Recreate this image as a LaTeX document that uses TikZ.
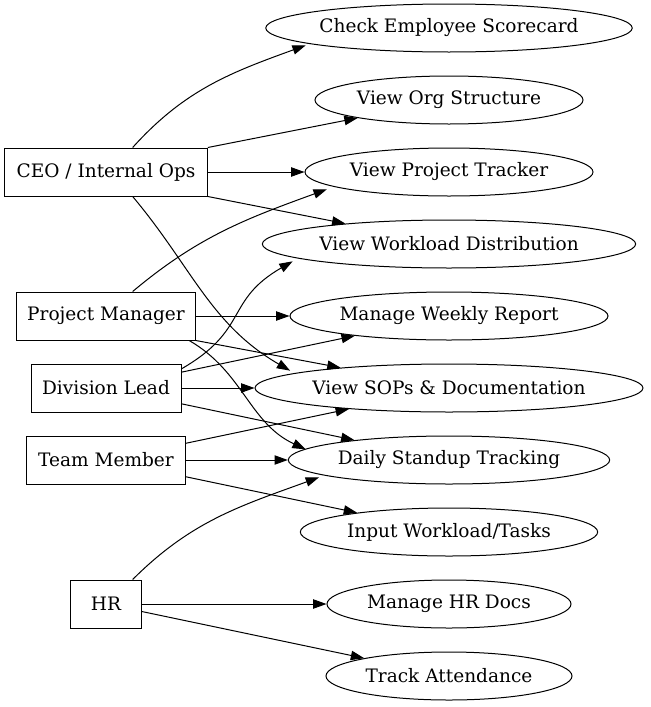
\documentclass[tikz,border=0pt]{standalone}
\usepackage{fontspec}
\setmainfont{DejaVu Serif}
\usetikzlibrary{shapes.geometric,arrows.meta}

\tikzset{
  role/.style={draw,rectangle,minimum height=36pt,inner sep=0pt},
  usecase/.style={draw,ellipse,minimum height=36pt,inner sep=0pt},
  link/.style={-{Triangle[length=10pt,width=7pt]}},
}

\begin{document}
\begin{tikzpicture}[x=0.75pt,y=-0.75pt,line width=0.75pt,font=\fontsize{13.9}{16}\selectfont]
  \useasboundingbox (0,0) rectangle (650,707);

  % roles on the left
  \node[role,minimum width=152pt] (ceo) at (106,172) {CEO / Internal Ops};
  \node[role,minimum width=134pt] (pm)  at (106,316) {Project Manager};
  \node[role,minimum width=112.5pt] (dl) at (106,388) {Division Lead};
  \node[role,minimum width=119pt] (tm)  at (106,460) {Team Member};
  \node[role,minimum width=53pt]  (hr)  at (106,604) {HR};

  % use cases on the right
  \node[usecase,minimum width=274.5pt] (score)    at (449,28)  {Check Employee Scorecard};
  \node[usecase,minimum width=201pt]   (org)      at (449,100) {View Org Structure};
  \node[usecase,minimum width=216pt]   (tracker)  at (449,172) {View Project Tracker};
  \node[usecase,minimum width=280pt]   (workload) at (449,244) {View Workload Distribution};
  \node[usecase,minimum width=238.5pt] (weekly)   at (449,316) {Manage Weekly Report};
  \node[usecase,minimum width=291pt]   (sops)     at (449,388) {View SOPs \& Documentation};
  \node[usecase,minimum width=241pt]   (daily)    at (449,460) {Daily Standup Tracking};
  \node[usecase,minimum width=223pt]   (input)    at (449,532) {Input Workload/Tasks};
  \node[usecase,minimum width=183pt]   (hrdocs)   at (449,604) {Manage HR Docs};
  \node[usecase,minimum width=184.5pt] (attend)   at (449,676) {Track Attendance};

  % CEO
  \draw[link] ([xshift=20pt]ceo.north) to[out=48,in=200] ([xshift=-10pt]score.south west);
  \draw[link] (ceo.north east) -- (org);
  \draw[link] (ceo) -- (tracker);
  \draw[link] (ceo.south east) -- (workload);
  \draw[link] ([xshift=20pt]ceo.south) to[out=-50,in=150] ([xshift=-16pt]sops.north west);

  % project manager
  \draw[link] ([xshift=20pt]pm.north) to[out=40,in=200] ([xshift=-15pt]tracker.south west);
  \draw[link] (pm) -- (weekly);
  \draw[link] (pm.south east) -- (sops);
  \draw[link] ([xshift=-5pt]pm.south east) to[out=-30,in=155] ([xshift=-22pt,yshift=-5pt]daily.north west);

  % division lead
  \draw[link] ([yshift=-4pt]dl.north east) to[out=30,in=210,looseness=1.3] ([xshift=-18pt]workload.south west);
  \draw[link] (dl) -- (weekly);
  \draw[link] (dl) -- (sops);
  \draw[link] (dl) -- (daily);

  % team member
  \draw[link] (tm) -- (sops);
  \draw[link] (tm) -- (daily);
  \draw[link] (tm) -- (input);

  % HR
  \draw[link] ([xshift=20pt]hr.north) to[out=45,in=200] ([xshift=-12pt]daily.south west);
  \draw[link] (hr) -- (hrdocs);
  \draw[link] (hr) -- (attend);
\end{tikzpicture}
\end{document}
